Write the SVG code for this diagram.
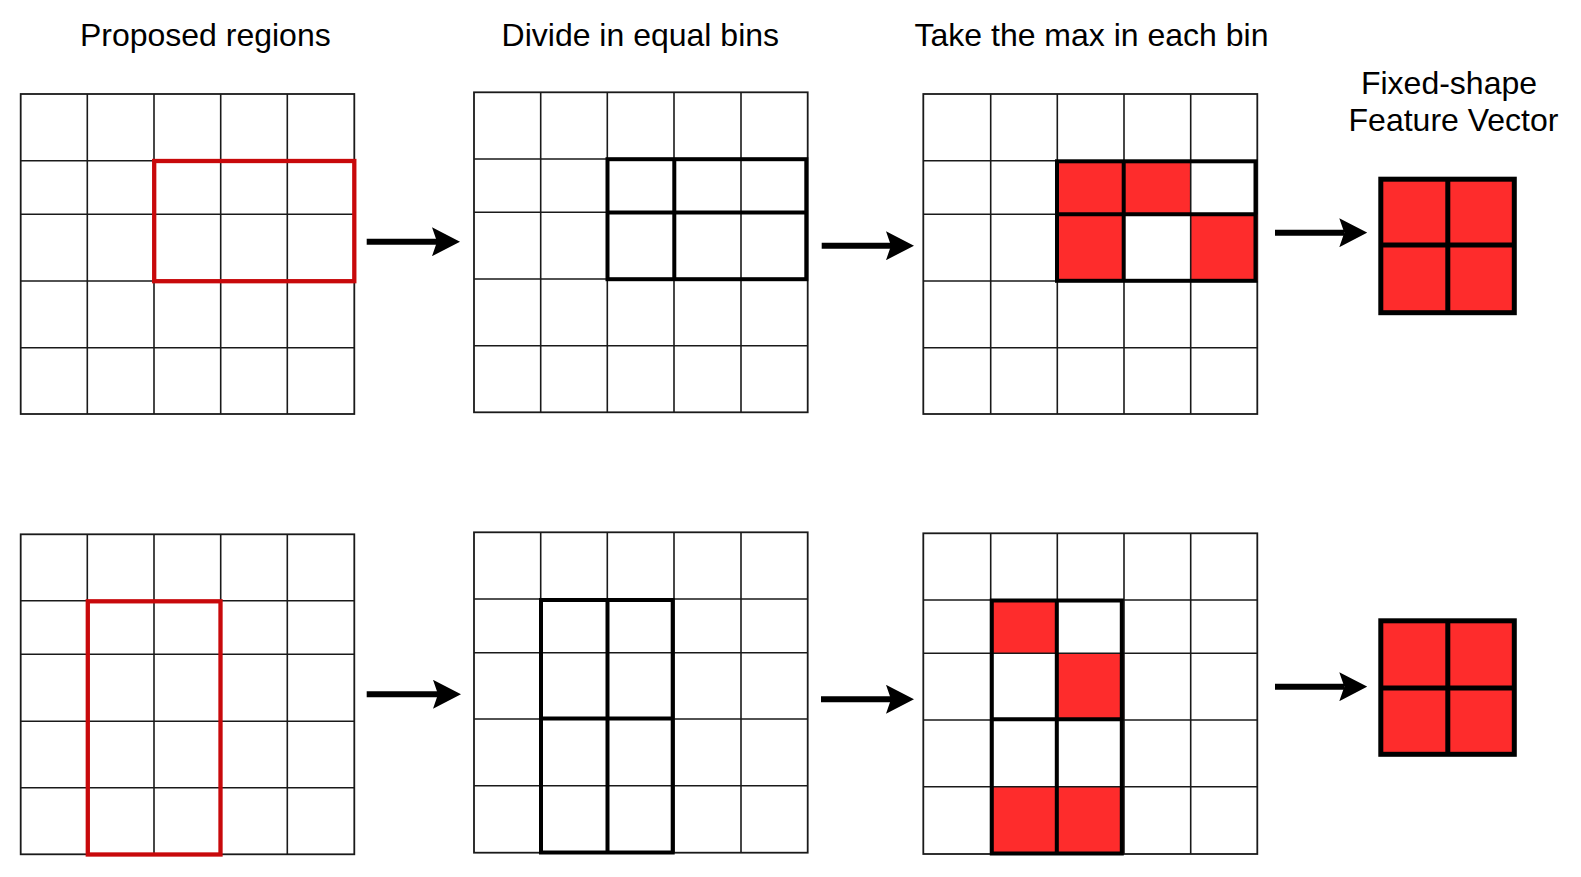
<svg xmlns="http://www.w3.org/2000/svg" width="1581" height="877" viewBox="0 0 1581 877">
<style>
.bg{fill:#ffffff}
.title{font-family:"Liberation Sans",Arial,Helvetica,sans-serif;font-size:32px;fill:#000;text-anchor:middle}
.fv{font-family:"Liberation Sans",Arial,Helvetica,sans-serif;font-size:32px;fill:#000;text-anchor:middle}
.thin{fill:none;stroke:#1a1a1a;stroke-width:1.6}
.frame{fill:#fff;stroke:#1a1a1a;stroke-width:1.8}
.roi{fill:none;stroke:#c8090b;stroke-width:4.3}
.bin{fill:none;stroke:#000;stroke-width:4}
.red{fill:#fe2c2c}
.vec{fill:#fe2c2c;stroke:#000;stroke-width:5}
.vecl{stroke:#000;stroke-width:5}
.arrow{stroke:#000;stroke-width:6;fill:none}
</style>
<defs>
<marker id="head" viewBox="0 0 28 29" markerWidth="28" markerHeight="29" refX="5" refY="14.5" markerUnits="userSpaceOnUse" orient="auto">
<path d="M0,0 L28,14.5 L0,29 L5,14.5 Z" fill="#000"/>
</marker>
</defs>
<rect class="bg" x="0" y="0" width="1581" height="877"/>

<g id="titles">
<text class="title" x="205.3" y="46">Proposed regions</text>
<text class="title" x="640.3" y="46">Divide in equal bins</text>
<text class="title" x="1091.5" y="46">Take the max in each bin</text>
<text class="fv" x="1449" y="93.5">Fixed-shape</text>
<text class="fv" x="1453.5" y="131">Feature Vector</text>
</g>

<g id="grid-top-regions">
<rect class="frame" x="20.7" y="94" width="333.6" height="320"/>
<path class="thin" d="M87.3,94V414M154,94V414M220.7,94V414M287.3,94V414M20.7,160.7H354.3M20.7,214.3H354.3M20.7,281H354.3M20.7,347.7H354.3"/>
<rect class="roi" x="154.2" y="161" width="200.1" height="120.2"/>
</g>

<g id="grid-top-bins">
<rect class="frame" x="474" y="92.3" width="333.7" height="320"/>
<path class="thin" d="M540.7,92.3V412.3M607.3,92.3V412.3M674,92.3V412.3M741,92.3V412.3M474,159H807.7M474,212.3H807.7M474,279H807.7M474,345.7H807.7"/>
<rect class="bin" x="607.5" y="159.2" width="198.8" height="120"/>
<path class="bin" d="M674.3,159.2V279.2M607.5,212.5H806.3"/>
</g>

<g id="grid-top-max">
<rect class="frame" x="923.3" y="94" width="334" height="320"/>
<rect class="red" x="1057.3" y="160.7" width="66.7" height="53.6"/>
<rect class="red" x="1124" y="160.7" width="66.7" height="53.6"/>
<rect class="red" x="1057.3" y="214.3" width="66.7" height="66.7"/>
<rect class="red" x="1190.7" y="214.3" width="66.6" height="66.7"/>
<path class="thin" d="M990.7,94V414M1057.3,94V414M1124,94V414M1190.7,94V414M923.3,160.7H1257.3M923.3,214.3H1257.3M923.3,281H1257.3M923.3,347.7H1257.3"/>
<rect class="bin" x="1057" y="161.3" width="198.5" height="119.5"/>
<path class="bin" d="M1123.7,161.3V280.8M1057,214.3H1255.5"/>
</g>

<g id="vector-top">
<rect class="vec" x="1380.8" y="179.2" width="133.5" height="133.5"/>
<path class="vecl" d="M1447.8,179.2V312.7M1380.8,245H1514.3"/>
</g>

<g id="grid-bottom-regions">
<rect class="frame" x="20.7" y="534.3" width="333.6" height="320"/>
<path class="thin" d="M87.3,534.3V854.3M154,534.3V854.3M220.7,534.3V854.3M287.3,534.3V854.3M20.7,600.7H354.3M20.7,654.3H354.3M20.7,721.3H354.3M20.7,787.7H354.3"/>
<rect class="roi" x="87.8" y="601.3" width="132.7" height="253.2"/>
</g>

<g id="grid-bottom-bins">
<rect class="frame" x="474" y="532.3" width="333.7" height="320.4"/>
<path class="thin" d="M540.7,532.3V852.7M607.3,532.3V852.7M674,532.3V852.7M741,532.3V852.7M474,599H807.7M474,652.7H807.7M474,719H807.7M474,785.7H807.7"/>
<rect class="bin" x="541" y="600" width="131.7" height="252.5"/>
<path class="bin" d="M607.5,600V852.5M541,718.5H672.7"/>
</g>

<g id="grid-bottom-max">
<rect class="frame" x="923.3" y="533.3" width="334" height="320.7"/>
<rect class="red" x="990.7" y="600" width="66.6" height="53.3"/>
<rect class="red" x="1057.3" y="653.3" width="66.7" height="66.7"/>
<rect class="red" x="990.7" y="786.7" width="66.6" height="67.3"/>
<rect class="red" x="1057.3" y="786.7" width="66.7" height="67.3"/>
<path class="thin" d="M990.7,533.3V854M1057.3,533.3V854M1124,533.3V854M1190.7,533.3V854M923.3,600H1257.3M923.3,653.3H1257.3M923.3,720H1257.3M923.3,786.7H1257.3"/>
<rect class="bin" x="991.8" y="600.5" width="130" height="253"/>
<path class="bin" d="M1056.8,600.5V853.5M991.8,719.2H1121.8"/>
</g>

<g id="vector-bottom">
<rect class="vec" x="1380.8" y="620.8" width="133.5" height="133.5"/>
<path class="vecl" d="M1447.8,620.8V754.3M1380.8,688H1514.3"/>
</g>

<g id="connectors">
<line class="arrow" x1="366.7" y1="241.7" x2="437" y2="241.7" marker-end="url(#head)"/>
<line class="arrow" x1="821.7" y1="245.7" x2="891" y2="245.7" marker-end="url(#head)"/>
<line class="arrow" x1="1275" y1="232.7" x2="1344.3" y2="232.7" marker-end="url(#head)"/>
<line class="arrow" x1="366.7" y1="694.3" x2="438" y2="694.3" marker-end="url(#head)"/>
<line class="arrow" x1="821" y1="699.3" x2="891" y2="699.3" marker-end="url(#head)"/>
<line class="arrow" x1="1275" y1="686.7" x2="1344.3" y2="686.7" marker-end="url(#head)"/>
</g>
</svg>
